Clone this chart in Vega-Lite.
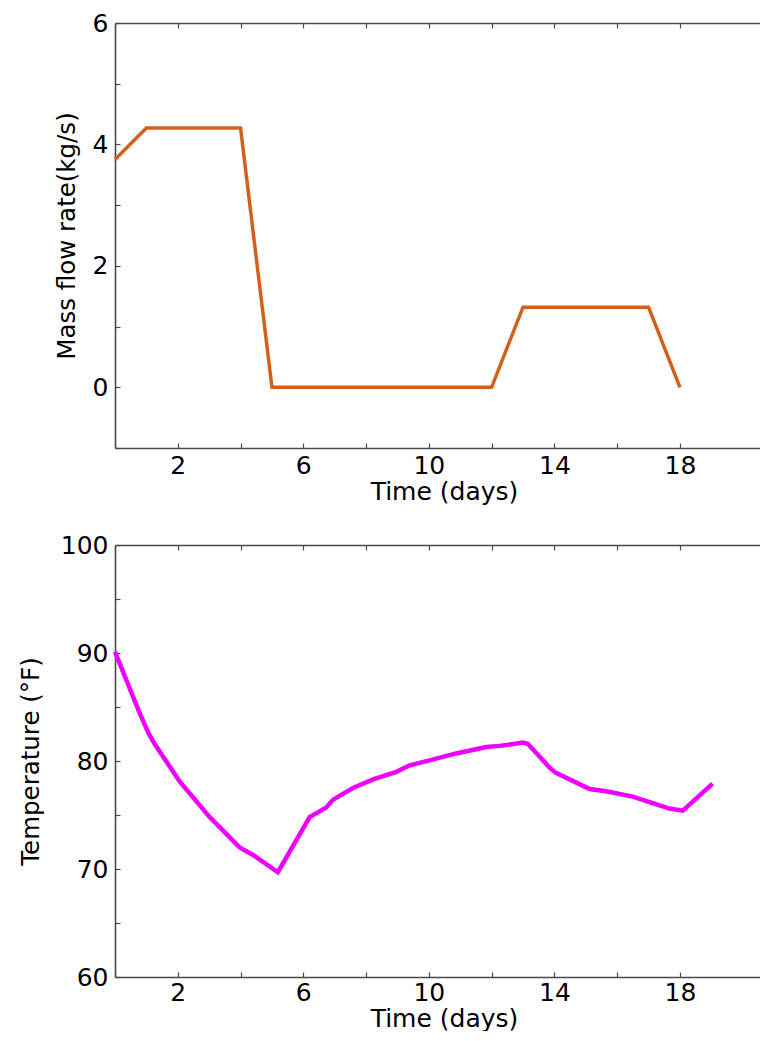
{
  "$schema": "https://vega.github.io/schema/vega-lite/v6.json",
  "padding": {"left": 18, "top": 11, "right": 0, "bottom": 0},
  "background": "white",
  "datasets": {
    "flow": [
      {"t": 0, "flow": 3.75},
      {"t": 1, "flow": 4.27},
      {"t": 4, "flow": 4.27},
      {"t": 5, "flow": 0},
      {"t": 12, "flow": 0},
      {"t": 13, "flow": 1.32},
      {"t": 17, "flow": 1.32},
      {"t": 18, "flow": 0}
    ],
    "temp": [
      {"t": 0, "temp": 90.1},
      {"t": 0.79, "temp": 84.4},
      {"t": 1.08, "temp": 82.5},
      {"t": 1.26, "temp": 81.6},
      {"t": 2.06, "temp": 78.1},
      {"t": 3.02, "temp": 74.8},
      {"t": 3.97, "temp": 72.0},
      {"t": 4.4, "temp": 71.3},
      {"t": 5.19, "temp": 69.7},
      {"t": 6.2, "temp": 74.8},
      {"t": 6.73, "temp": 75.7},
      {"t": 6.94, "temp": 76.4},
      {"t": 7.58, "temp": 77.5},
      {"t": 8.22, "temp": 78.3},
      {"t": 8.96, "temp": 79.0},
      {"t": 9.39, "temp": 79.6},
      {"t": 10.08, "temp": 80.1},
      {"t": 10.87, "temp": 80.7},
      {"t": 11.83, "temp": 81.3},
      {"t": 12.25, "temp": 81.4},
      {"t": 12.99, "temp": 81.7},
      {"t": 13.15, "temp": 81.6},
      {"t": 13.63, "temp": 80.1},
      {"t": 13.84, "temp": 79.4},
      {"t": 14.05, "temp": 78.9},
      {"t": 15.12, "temp": 77.4},
      {"t": 15.65, "temp": 77.2},
      {"t": 16.5, "temp": 76.7},
      {"t": 17.13, "temp": 76.1},
      {"t": 17.67, "temp": 75.6},
      {"t": 18.09, "temp": 75.4},
      {"t": 19.04, "temp": 77.9}
    ]
  },
  "bounds": "flush",
  "spacing": 97,
  "vconcat": [
    {
      "width": 645,
      "height": 425,
      "data": {"name": "flow"},
      "layer": [
        {
          "mark": {"type": "line", "color": "#d0601c", "strokeWidth": 3.5},
          "encoding": {
            "x": {"field": "t", "type": "quantitative",
              "scale": {"domain": [0, 20.55], "nice": false, "zero": false},
              "axis": {"orient": "bottom", "values": [0, 2, 4, 6, 8, 10, 12, 14, 16, 18],
                "labelExpr": "datum.value % 4 == 2 ? datum.label : ''",
                "tickSize": -5, "labelPadding": 10, "title": "Time (days)", "titlePadding": 1,
                "titleX": 329, "titleAlign": "center"}},
            "y": {"field": "flow", "type": "quantitative",
              "scale": {"domain": [-1, 6], "nice": false, "zero": false},
              "axis": {"values": [-1, 0, 1, 2, 3, 4, 5, 6], "format": "d",
                "labelExpr": "(datum.value % 2 == 0 && datum.value >= 0) ? datum.label : ''",
                "tickSize": -5, "labelPadding": 12, "title": "Mass flow rate(kg/s)", "titlePadding": 13,
                "titleFontSize": 24.5}}
          }
        },
        {
          "mark": {"type": "line", "opacity": 0},
          "encoding": {
            "x": {"field": "t", "type": "quantitative",
              "axis": {"orient": "top", "values": [0, 2, 4, 6, 8, 10, 12, 14, 16, 18],
                "labels": false, "tickSize": -5, "title": null}},
            "y": {"field": "flow", "type": "quantitative"}
          }
        }
      ],
      "resolve": {"axis": {"x": "independent"}}
    },
    {
      "width": 645,
      "height": 432,
      "data": {"name": "temp"},
      "layer": [
        {
          "mark": {"type": "line", "color": "#ee00ff", "strokeWidth": 4.5},
          "encoding": {
            "x": {"field": "t", "type": "quantitative",
              "scale": {"domain": [0, 20.55], "nice": false, "zero": false},
              "axis": {"orient": "bottom", "values": [0, 2, 4, 6, 8, 10, 12, 14, 16, 18],
                "labelExpr": "datum.value % 4 == 2 ? datum.label : ''",
                "tickSize": -5, "labelPadding": 8, "title": "Time (days)", "titlePadding": 1,
                "titleX": 329, "titleAlign": "center"}},
            "y": {"field": "temp", "type": "quantitative",
              "scale": {"domain": [60, 100], "nice": false, "zero": false},
              "axis": {"values": [60, 65, 70, 75, 80, 85, 90, 95, 100], "format": "d",
                "labelExpr": "datum.value % 10 == 0 ? datum.label : ''",
                "tickSize": -5, "labelPadding": 12, "title": "Temperature (°F)", "titlePadding": 17,
                "titleFontSize": 24.5}}
          }
        },
        {
          "mark": {"type": "line", "opacity": 0},
          "encoding": {
            "x": {"field": "t", "type": "quantitative",
              "axis": {"orient": "top", "values": [0, 2, 4, 6, 8, 10, 12, 14, 16, 18],
                "labels": false, "tickSize": -5, "title": null}},
            "y": {"field": "temp", "type": "quantitative"}
          }
        }
      ],
      "resolve": {"axis": {"x": "independent"}}
    }
  ],
  "config": {
    "font": "DejaVu Sans",
    "view": {"stroke": null},
    "axis": {
      "labelFont": "DejaVu Sans", "titleFont": "DejaVu Sans",
      "labelFontSize": 25, "titleFontSize": 25, "titleFontWeight": "normal",
      "labelColor": "#000", "titleColor": "#000",
      "domainColor": "#4a4a4a", "tickColor": "#4a4a4a",
      "domainWidth": 1.6, "tickWidth": 1.2,
      "grid": false, "labelFlush": false, "labelOverlap": false
    }
  }
}
